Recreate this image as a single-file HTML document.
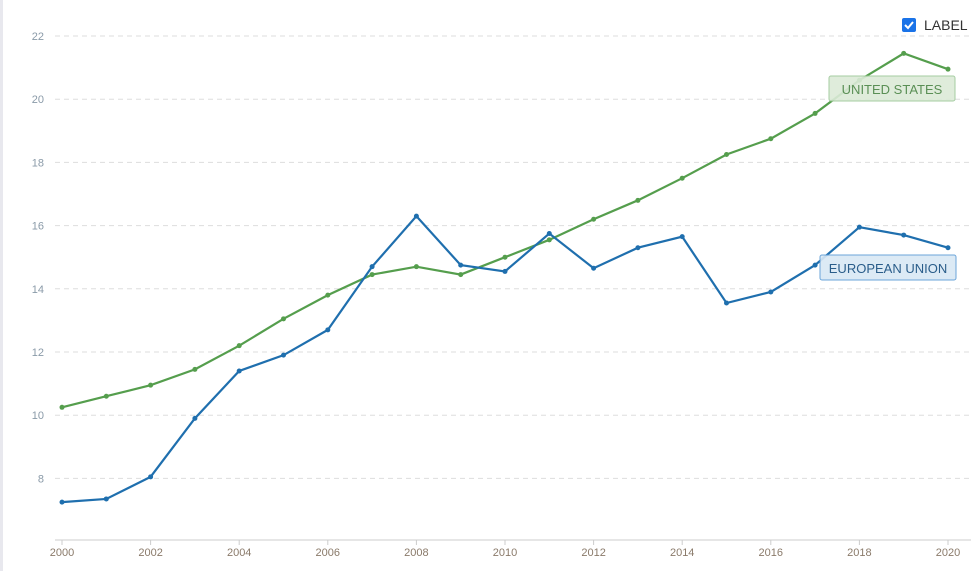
<!DOCTYPE html>
<html><head><meta charset="utf-8"><style>
body{margin:0;width:971px;height:571px;overflow:hidden;background:#fff;font-family:"Liberation Sans",sans-serif}
</style></head><body>
<svg width="971" height="571">
<rect x="0" y="0" width="3" height="571" fill="#e8e8ee"/>
<g id="grid"></g><g id="xt"></g><g id="lines"></g>
<g>
<rect x="902" y="18" width="14" height="14" rx="2" fill="#1a73e8"/>
<path d="M905 25 l3 3 l5 -6" stroke="#fff" stroke-width="2" fill="none"/>
<text x="924" y="30" font-size="14" fill="#333">LABEL</text>
</g>
<g>
<rect x="829" y="76" width="126" height="25" rx="2" fill="#dcebd8" stroke="#9cc898" opacity="0.9"/>
<text x="892" y="94" font-size="13" fill="#5a8f55" text-anchor="middle">UNITED STATES</text>
</g>
<g>
<rect x="820" y="255" width="136" height="25" rx="2" fill="#d9e8f5" stroke="#5b9bd5" opacity="0.9"/>
<text x="888" y="273" font-size="13" fill="#2a5d8a" text-anchor="middle">EUROPEAN UNION</text>
</g>
</svg>
<script>
const years=[2000,2001,2002,2003,2004,2005,2006,2007,2008,2009,2010,2011,2012,2013,2014,2015,2016,2017,2018,2019,2020];
const euValues=[7.25,7.35,8.05,9.9,11.4,11.9,12.7,14.7,16.3,14.75,14.55,15.75,14.65,15.3,15.65,13.55,13.9,14.75,15.95,15.7,15.3];
const usValues=[10.25,10.6,10.95,11.45,12.2,13.05,13.8,14.45,14.7,14.45,15.0,15.55,16.2,16.8,17.5,18.25,18.75,19.55,20.6,21.45,20.95];
const yTicks=[8,10,12,14,16,18,20,22];
const xTicks=[2000,2002,2004,2006,2008,2010,2012,2014,2016,2018,2020];
const NS="http://www.w3.org/2000/svg";
const X=v=>62+(v-2000)*44.3;
const Y=v=>36+(22-v)*31.6;
function mk(t,a,p){const e=document.createElementNS(NS,t);for(const k in a)e.setAttribute(k,a[k]);p.appendChild(e);return e;}
const grid=document.getElementById('grid');
yTicks.forEach(v=>{
 const l=mk('line',{x1:55,x2:971,y1:Y(v),y2:Y(v),stroke:'#ddd','stroke-dasharray':'5,4'},grid);
 
 
 const t=mk('text',{x:44,y:Y(v)+4,'font-size':11,fill:'#8a9aa8','text-anchor':'end'},grid);
 t.textContent=v;
 
 
});
const xt=document.getElementById('xt');
mk('line',{x1:55,x2:971,y1:540,y2:540,stroke:'#ccc'},xt);
xTicks.forEach(v=>{
 mk('line',{x1:X(v),x2:X(v),y1:540,y2:545,stroke:'#ccc'},xt);
 const t=mk('text',{x:X(v),y:556,'font-size':11,fill:'#8a7a6a','text-anchor':'middle'},xt);
 t.textContent=v;
 
 
});
const lines=document.getElementById('lines');
[[usValues,'#559e4d','us-line'],[euValues,'#1f6fae','eu-line']].forEach(([vals,c,n])=>{
 const p=mk('polyline',{points:vals.map((v,i)=>X(years[i])+','+Y(v)).join(' '),fill:'none',stroke:c,'stroke-width':2.2},lines);
 
 
 vals.forEach((v,i)=>{
  const d=mk('circle',{cx:X(years[i]),cy:Y(v),r:2.5,fill:c},lines);
  
  
 });
});
</script>
</body></html>
